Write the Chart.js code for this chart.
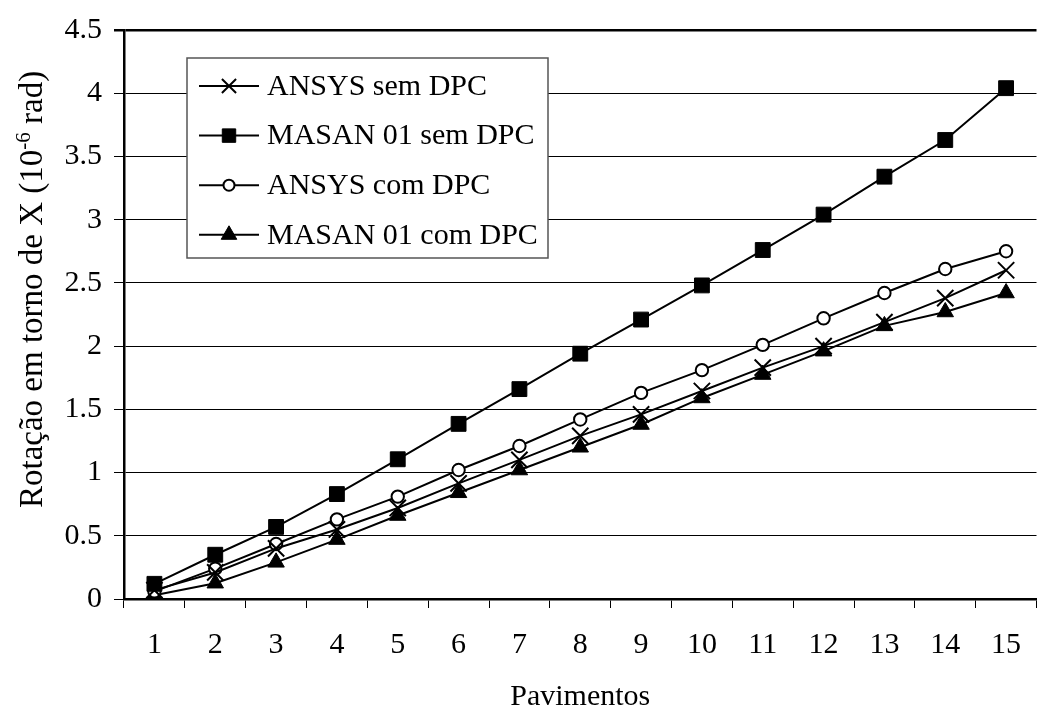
<!DOCTYPE html>
<html>
<head>
<meta charset="utf-8">
<script src="https://cdn.jsdelivr.net/npm/chart.js@4.4.1/dist/chart.umd.min.js"></script>
<style>
  html, body { margin: 0; padding: 0; overflow: hidden; background: #ffffff; }
  #wrap { width: 1050px; height: 712px; position: relative; }
</style>
</head>
<body>
<div id="wrap"><canvas id="chart"></canvas></div>
<script>
// Floors (x categories)
const pavimentos = ['1', '2', '3', '4', '5', '6', '7', '8', '9', '10', '11', '12', '13', '14', '15'];

// Rotation about X, in 10^-6 rad
const ansysSemDPC = [0.07, 0.21, 0.40, 0.55, 0.72, 0.915, 1.10, 1.29, 1.46, 1.645, 1.83, 2.0, 2.19, 2.38, 2.6];
const masanSemDPC = [0.12, 0.35, 0.57, 0.83, 1.105, 1.385, 1.66, 1.94, 2.21, 2.48, 2.76, 3.04, 3.34, 3.63, 4.04];
const ansysComDPC = [0.06, 0.24, 0.435, 0.63, 0.81, 1.02, 1.21, 1.42, 1.63, 1.81, 2.01, 2.22, 2.42, 2.61, 2.75];
const masanComDPC = [0.03, 0.125, 0.29, 0.47, 0.66, 0.84, 1.02, 1.2, 1.38, 1.59, 1.775, 1.96, 2.16, 2.27, 2.42];

const seriesNames = ['ANSYS sem DPC', 'MASAN 01 sem DPC', 'ANSYS com DPC', 'MASAN 01 com DPC'];

// Y axis tick labels
const yTickLabels = ['0', '0.5', '1', '1.5', '2', '2.5', '3', '3.5', '4', '4.5'];

const xTitle = 'Pavimentos';
const yTitleStart = 'Rotação em torno de X (10';
const yTitleSup = '-6';
const yTitleEnd = ' rad)';

const FONT = "'Liberation Serif', 'Times New Roman', serif";

const markerStyles = [
  { pointStyle: 'crossRot', radius: 11.5, legendRadius: 10, fill: '#000', borderWidth: 2 },
  { pointStyle: 'rect', radius: 10.5, legendRadius: 9.5, fill: '#000', borderWidth: 1 },
  { pointStyle: 'circle', radius: 6.2, legendRadius: 5.5, fill: '#fff', borderWidth: 2 },
  { pointStyle: 'triangle', radius: 9.5, legendRadius: 9, fill: '#000', borderWidth: 1 }
];

const seriesValues = [ansysSemDPC, masanSemDPC, ansysComDPC, masanComDPC];

const datasets = seriesValues.map((vals, i) => ({
  label: seriesNames[i],
  data: vals,
  borderColor: '#000',
  borderWidth: 2,
  backgroundColor: markerStyles[i].fill,
  pointStyle: markerStyles[i].pointStyle,
  pointRadius: markerStyles[i].radius,
  pointBorderWidth: markerStyles[i].borderWidth,
  pointBorderColor: '#000',
  pointBackgroundColor: markerStyles[i].fill,
  tension: 0,
  fill: false
}));

// Boxed legend with line + marker samples
const boxLegend = {
  id: 'boxLegend',
  afterDatasetsDraw(chart) {
    const ctx = chart.ctx;
    const box = { x: 187, y: 58, w: 361, h: 200 };
    ctx.save();
    ctx.fillStyle = '#fff';
    ctx.fillRect(box.x, box.y, box.w, box.h);
    ctx.strokeStyle = '#555';
    ctx.lineWidth = 1.5;
    ctx.strokeRect(box.x, box.y, box.w, box.h);
    const rowY0 = 86, rowStep = 49.6;
    chart.data.datasets.forEach((ds, i) => {
      const y = rowY0 + i * rowStep;
      ctx.strokeStyle = '#000';
      ctx.lineWidth = 2;
      ctx.beginPath();
      ctx.moveTo(199, y);
      ctx.lineTo(259, y);
      ctx.stroke();
      ctx.fillStyle = markerStyles[i].fill;
      ctx.strokeStyle = '#000';
      ctx.lineWidth = markerStyles[i].borderWidth;
      Chart.helpers.drawPoint(ctx, {
        pointStyle: markerStyles[i].pointStyle,
        radius: markerStyles[i].legendRadius,
        rotation: 0,
        borderWidth: markerStyles[i].borderWidth
      }, 229, y);
      ctx.fillStyle = '#000';
      ctx.font = '30px ' + FONT;
      ctx.textAlign = 'left';
      ctx.textBaseline = 'middle';
      ctx.fillText(ds.label, 267, y + 1);
    });
    ctx.restore();
  }
};

// Rotated y-axis title with a superscript exponent, reading upward from y = 508
const yTitle = {
  id: 'yTitle',
  afterDraw(chart) {
    const ctx = chart.ctx;
    ctx.save();
    ctx.fillStyle = '#000';
    ctx.translate(42, 508);
    ctx.rotate(-Math.PI / 2);
    ctx.textBaseline = 'alphabetic';
    ctx.textAlign = 'left';
    let x = 0;
    ctx.font = '33px ' + FONT;
    ctx.fillText(yTitleStart, x, 0);
    x += ctx.measureText(yTitleStart).width;
    ctx.font = '21px ' + FONT;
    ctx.fillText(yTitleSup, x, -12);
    x += ctx.measureText(yTitleSup).width;
    ctx.font = '33px ' + FONT;
    ctx.fillText(yTitleEnd, x, 0);
    ctx.restore();
  }
};

new Chart(document.getElementById('chart'), {
  type: 'line',
  data: { labels: pavimentos, datasets },
  plugins: [boxLegend, yTitle],
  options: {
    responsive: true,
    maintainAspectRatio: false,
    animation: false,
    events: [],
    layout: { padding: { top: 22.5, right: 0, bottom: 0, left: 0 } },
    plugins: { legend: { display: false }, tooltip: { enabled: false } },
    scales: {
      x: {
        type: 'category',
        offset: true,
        grid: {
          offset: true,
          drawOnChartArea: false,
          drawTicks: true,
          tickLength: 9,
          color: '#000',
          lineWidth: 1
        },
        border: { display: true, color: '#000', width: 2.5 },
        ticks: {
          color: '#000',
          font: { family: FONT, size: 30 },
          padding: 19,
          maxRotation: 0,
          autoSkip: false
        },
        title: {
          display: true,
          text: xTitle,
          color: '#000',
          font: { family: FONT, size: 30, lineHeight: 1 },
          padding: { top: 0, bottom: 0 }
        },
        afterFit(scale) { scale.height = 113; }
      },
      y: {
        min: 0,
        max: 4.5,
        grid: {
          color: '#000',
          lineWidth: (c) => (c.tick && c.tick.value === 4.5 ? 2.5 : 1),
          drawTicks: true,
          tickLength: 10
        },
        border: { display: true, color: '#000', width: 2.5 },
        ticks: {
          stepSize: 0.5,
          color: '#000',
          font: { family: FONT, size: 30 },
          padding: 12,
          callback: (v, i) => yTickLabels[i]
        },
        afterFit(scale) { scale.width = 124; }
      }
    }
  }
});
</script>
</body>
</html>
